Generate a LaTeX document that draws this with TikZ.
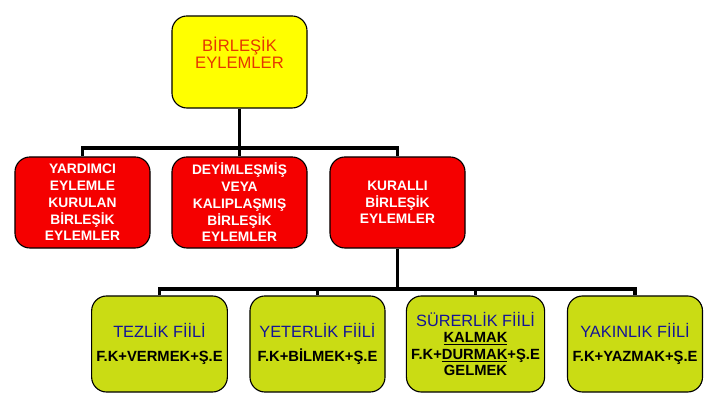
\documentclass[tikz,border=0pt]{standalone}
\usepackage{fontspec}
\setmainfont{Liberation Sans}
\usepackage{tikz}
\usetikzlibrary{positioning,calc}
\definecolor{topyellow}{RGB}{255,255,0}
\definecolor{toptext}{RGB}{230,55,0}
\definecolor{boxred}{RGB}{245,0,0}
\definecolor{boxgreen}{RGB}{202,220,20}
\definecolor{titleblue}{RGB}{20,20,150}
\newcommand{\fiilfont}{\fontsize{11.6}{13}\selectfont\mdseries\color{titleblue}}

\begin{document}
\begin{tikzpicture}[
  x=0.025cm, y=0.025cm,
  topbox/.style={draw, line width=0.8pt, fill=topyellow, rounded corners=0.375cm,
    minimum width=3.375cm, minimum height=2.3cm},
  redbox/.style={draw, line width=0.8pt, fill=boxred, rounded corners=0.375cm,
    minimum width=3.375cm, minimum height=2.275cm, align=center, text=white,
    font=\fontsize{9.8}{11.9}\selectfont\bfseries},
  greenbox/.style={draw, line width=0.8pt, fill=boxgreen, rounded corners=0.375cm,
    minimum width=3.375cm, minimum height=2.4cm, align=center,
    font=\fontsize{10.5}{11.8}\selectfont\bfseries},
  bus/.style={line width=2.2pt}
]
  \useasboundingbox (0,0) rectangle (720,405);

  % Root
  \node[topbox, label={[yshift=6.5pt, align=center, text=toptext,
    font=\fontsize{11.8}{12.5}\selectfont]center:BİRLEŞİK\\EYLEMLER}]
    (top) at (239.5,343) {};

  % Second row
  \node[redbox] (yard) at (82.5,202.5) {YARDIMCI\\EYLEMLE\\KURULAN\\BİRLEŞİK\\EYLEMLER};
  \node[redbox] (deyim) at (239.5,202.5) {DEYİMLEŞMİŞ\\VEYA\\KALIPLAŞMIŞ\\BİRLEŞİK\\EYLEMLER};
  \node[redbox] (kural) at (397.5,202.5) {KURALLI\\BİRLEŞİK\\EYLEMLER};

  % Third row
  \node[greenbox] (tez) at (159.5,61) {{\fiilfont TEZLİK FİİLİ}\\[5pt]F.K+VERMEK+Ş.E};
  \node[greenbox] (yet) at (317.5,61) {{\fiilfont YETERLİK FİİLİ}\\[5pt]F.K+BİLMEK+Ş.E};
  \node[greenbox] (sur) at (475.5,61)
    {{\fiilfont SÜRERLİK FİİLİ}\\\underline{KALMAK}\\F.K+\underline{DURMAK}+Ş.E\\GELMEK};
  \node[greenbox] (yak) at (635,61) {{\fiilfont YAKINLIK FİİLİ}\\[5pt]F.K+YAZMAK+Ş.E};

  % Connectors
  \coordinate (busA) at (239.5,257);
  \coordinate (busB) at (397.5,116);
  \draw[bus] (top.south) -- (deyim.north);
  \draw[bus] (yard.north) -- (yard.north |- busA) -| (kural.north);
  \draw[bus] (kural.south) -- (busB);
  \draw[bus] (tez.north) -- (tez.north |- busB) -| (yak.north);
  \draw[bus] (yet.north) -- (yet.north |- busB);
  \draw[bus] (sur.north) -- (sur.north |- busB);
\end{tikzpicture}
\end{document}
